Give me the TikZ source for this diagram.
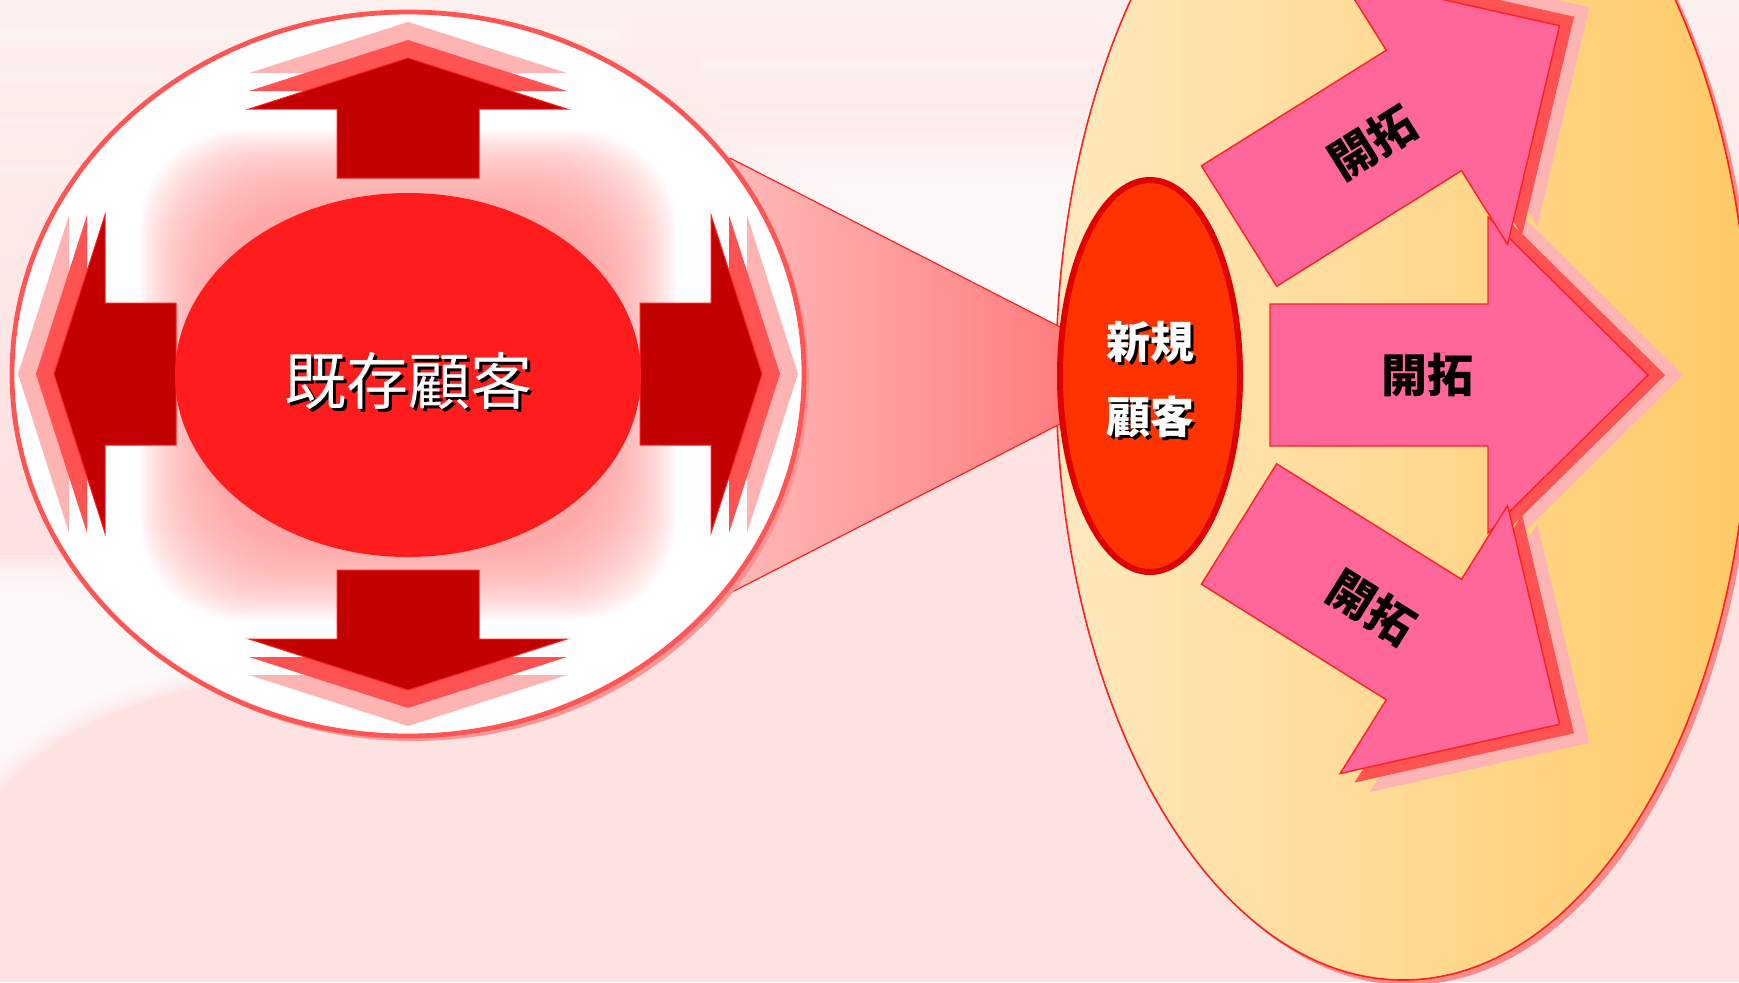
\documentclass[tikz,border=0pt]{standalone}
\usepackage{fontspec}
\newfontfamily\cjk{Noto Sans CJK JP}
\definecolor{bgpink}{HTML}{FEE2E2}
\definecolor{bgtop}{HTML}{FCF0EE}
\definecolor{circborder}{HTML}{FF5555}
\definecolor{circshadow}{HTML}{FF9494}
\definecolor{arrowdark}{HTML}{C20000}
\definecolor{arrowedge}{HTML}{FF2020}
\definecolor{layerred}{HTML}{FF5252}
\definecolor{layerpink}{HTML}{FFB4B4}
\definecolor{innerred}{HTML}{FF1C1C}
\definecolor{glowpink}{HTML}{FF9C9C}
\definecolor{conel}{HTML}{FFB8B8}
\definecolor{coner}{HTML}{FF7E7E}
\definecolor{yell}{HTML}{FFE9BF}
\definecolor{yelr}{HTML}{FFCA66}
\definecolor{yelshadow}{HTML}{FF8A8A}
\definecolor{newfill}{HTML}{FF3300}
\definecolor{newedge}{HTML}{E00000}
\definecolor{arrowpink}{HTML}{FF6699}

% generic block arrow: style, offset, shaft length, head length, shaft half width, head half width
\newcommand{\blockarrow}[6]{\path[#1] (#2,-#5) -- ({#2+#3},-#5) -- ({#2+#3},-#6) -- ({#2+#3+#4},0) -- ({#2+#3},#6) -- ({#2+#3},#5) -- (#2,#5) -- cycle;}

\newcommand{\circarrow}[4]{%
  \begin{scope}[shift={(#1,#2)},rotate=#3]
    \blockarrow{layerB}{36}{#4}{51}{71}{159}
    \blockarrow{layerA}{18}{#4}{51}{71}{159}
    \blockarrow{darkarrow}{0}{#4}{51}{71}{159}
  \end{scope}}

\newcommand{\openarrow}[4]{%
  \begin{scope}[shift={(#1,#2)},rotate=#3]
    \blockarrow{layerB}{35}{218}{160}{71}{158}
    \blockarrow{layerA}{17}{218}{160}{71}{158}
    \blockarrow{pinkarrow}{0}{218}{160}{71}{158}
    \node[kaitaku,rotate=#3] (#4) at (157,0) {開拓};
  \end{scope}}

\begin{document}
\begin{tikzpicture}[x=0.5pt,y=-0.5pt,
  layerA/.style={fill=layerred},
  layerB/.style={fill=layerpink},
  darkarrow/.style={fill=arrowdark,draw=arrowedge,line width=0.5pt},
  pinkarrow/.style={fill=arrowpink,draw=arrowedge,line width=0.7pt},
  kaitaku/.style={font=\cjk\bfseries\fontsize{23}{23}\selectfont,text=black,inner sep=0pt},
  bigtext/.style={font=\cjk\fontsize{31}{31}\selectfont,inner sep=0pt},
  newtext/.style={font=\cjk\bfseries\fontsize{22}{22}\selectfont,inner sep=0pt},
  streak/.style={fill=white,fill opacity=0.2},
  softwhite/.style={fill=white,fill opacity=0.16},
  coneedge/.style={draw=arrowedge,line width=0.6pt}]
\useasboundingbox (0,0) rectangle (1739,982);
\clip (0,0) rectangle (1739,982);

% background
\fill[bgpink] (0,0) rectangle (1739,982);
\shade[top color=bgtop,bottom color=bgpink] (0,0) rectangle (1739,480);
\fill[streak] (0,30) rectangle (620,40);
\fill[streak] (0,72) rectangle (520,82);
\fill[streak] (0,118) rectangle (680,126);
\fill[streak] (0,165) rectangle (450,175);
\fill[streak] (700,60) rectangle (1100,70);
\fill[streak] (720,110) rectangle (1100,118);
% white swoosh, lower left (soft edges by stacked layers)
\foreach \i in {0,...,11}
  \fill[softwhite] (-10,{555+4*\i}) -- (300,{555+4*\i}) -- (300,{675-2*\i}) .. controls (150,{685-2*\i}) and (60,{725-2*\i}) .. (-10,{800-4*\i}) -- cycle;
% white area above the cone
\foreach \i in {0,...,11}
  \fill[softwhite,rounded corners=20pt] ({700+14*\i},{130+9*\i}) rectangle (1130,360);

% large yellow ellipse
\fill[yelshadow] (1408,380) ellipse [x radius=347,y radius=605];
\shadedraw[left color=yell,right color=yelr,draw=arrowedge,line width=0.8pt] (1403,375) ellipse [x radius=347,y radius=605];

% cone
\shade[left color=conel,right color=coner] (730,158) -- (1060,327) -- (1060,424) -- (732,592) -- cycle;
\draw[coneedge] (730,158) -- (1060,327);
\draw[coneedge] (732,592) -- (1060,424);

% big circle
\fill[circshadow] (413,379) ellipse [x radius=396,y radius=362];
\fill[white] (408,374) ellipse [x radius=396,y radius=362];
\begin{scope}
  \clip (408,374) ellipse [x radius=394,y radius=360];
  \foreach \i in {0,...,29}
    \fill[glowpink,fill opacity=0.06,rounded corners=50pt] ({140+3*\i},{130+3*\i}) rectangle ({676-3*\i},{620-3*\i});
  \circarrow{640}{374}{0}{71}
  \circarrow{176}{374}{180}{71}
  \circarrow{408}{178}{90}{69}
  \circarrow{408}{570}{-90}{69}
\end{scope}
\draw[circborder,line width=2.4pt] (408,374) ellipse [x radius=396,y radius=362];
\fill[innerred] (408,375) ellipse [x radius=233,y radius=182];
\node[bigtext,text=black] (kizonS) at (411,384) {既存顧客};
\node[bigtext,text=white] (kizon) at (408,381) {既存顧客};

% new customers ellipse
\filldraw[fill=newfill,draw=newedge,line width=3pt] (1150,376) ellipse [x radius=90,y radius=196];
\node[newtext,text=black] (shinkiS) at (1153,345) {新規};
\node[newtext,text=white] (shinki) at (1150,342) {新規};
\node[newtext,text=black] (kokyakuS) at (1153,420) {顧客};
\node[newtext,text=white] (kokyaku) at (1150,417) {顧客};

% development arrows
\openarrow{1270}{375}{0}{kaiM}
\openarrow{1239}{226}{32}{kaiU}
\openarrow{1239}{524}{-32}{kaiD}
\end{tikzpicture}
\end{document}
